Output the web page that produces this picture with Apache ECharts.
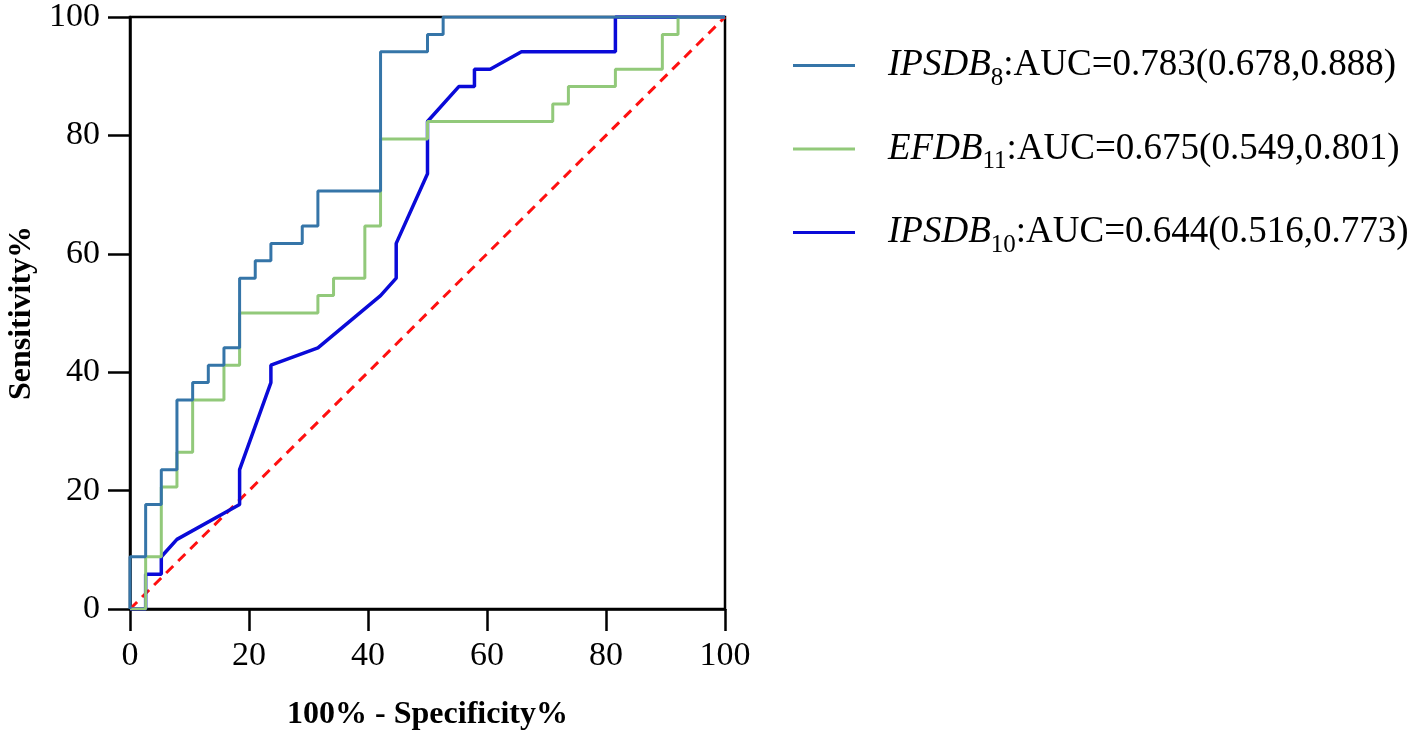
<!DOCTYPE html>
<html>
<head>
<meta charset="utf-8">
<script src="https://cdn.jsdelivr.net/npm/echarts@6/dist/echarts.min.js"></script>
<style>
  html, body { margin: 0; padding: 0; background: #fff; }
  #chart { width: 1417px; height: 736px; }
</style>
</head>
<body>
<div id="chart"></div>
<script>
// ROC 曲线数据 (100% - Specificity%, Sensitivity%)
var ipsdb8X = [0, 0, 2.63, 2.63, 5.26, 5.26, 7.89, 7.89, 10.53, 10.53, 13.16, 13.16, 15.79, 15.79, 18.42, 18.42,
    21.05, 21.05, 23.68, 23.68, 28.95, 28.95, 31.58, 31.58, 42.11, 42.11, 50, 50, 52.63, 52.63, 100];
var ipsdb8Y = [0, 8.82, 8.82, 17.65, 17.65, 23.53, 23.53, 35.29, 35.29, 38.24, 38.24, 41.18, 41.18, 44.12, 44.12, 55.88,
    55.88, 58.82, 58.82, 61.76, 61.76, 64.71, 64.71, 70.59, 70.59, 94.12, 94.12, 97.06, 97.06, 100, 100];

var efdb11X = [0, 2.63, 2.63, 5.26, 5.26, 7.89, 7.89, 10.53, 10.53, 15.79, 15.79, 18.42, 18.42, 31.58, 31.58, 34.21,
    34.21, 39.47, 39.47, 42.11, 42.11, 50, 50, 71.05, 71.05, 73.68, 73.68, 81.58, 81.58, 89.47, 89.47, 92.11, 92.11, 100];
var efdb11Y = [0, 0, 8.82, 8.82, 20.59, 20.59, 26.47, 26.47, 35.29, 35.29, 41.18, 41.18, 50, 50, 52.94, 52.94,
    55.88, 55.88, 64.71, 64.71, 79.41, 79.41, 82.35, 82.35, 85.29, 85.29, 88.24, 88.24, 91.18, 91.18, 97.06, 97.06, 100, 100];

var ipsdb10X = [0, 2.63, 2.63, 5.26, 5.26, 7.89, 18.42, 18.42, 23.68, 23.68, 31.58, 42.11, 44.74, 44.74, 50, 50,
    55.26, 57.89, 57.89, 60.53, 65.79, 81.58, 81.58, 100];
var ipsdb10Y = [0, 0, 5.88, 5.88, 8.82, 11.76, 17.65, 23.53, 38.24, 41.18, 44.12, 52.94, 55.88, 61.76, 73.53, 82.35,
    88.24, 88.24, 91.18, 91.18, 94.12, 94.12, 100, 100];

// 参考线
var refX = [0, 100];
var refY = [0, 100];

// 图例文字
var names = ['IPSDB8', 'EFDB11', 'IPSDB10'];
var nameMain = ['IPSDB', 'EFDB', 'IPSDB'];
var nameSub = ['8', '11', '10'];
var aucText = [':AUC=0.783(0.678,0.888)', ':AUC=0.675(0.549,0.801)', ':AUC=0.644(0.516,0.773)'];

function pairs(xs, ys) {
    return xs.map(function (x, i) { return [x, ys[i]]; });
}

var font = '"Liberation Serif", "Times New Roman", serif';

var chart = echarts.init(document.getElementById('chart'));

var option = {
    animation: false,
    backgroundColor: '#fff',
    grid: {
        left: 130,
        right: 692,
        top: 14,
        bottom: 127,
        show: true,
        borderColor: '#000',
        borderWidth: 2.5
    },
    legend: {
        orient: 'vertical',
        left: 793,
        top: 47,
        padding: 0,
        itemWidth: 62,
        itemHeight: 3,
        itemGap: 40,
        icon: 'rect',
        data: names,
        formatter: function (name) {
            var i = names.indexOf(name);
            return '{sp|}{a|' + nameMain[i] + '}{b|' + nameSub[i] + '}{c|' + aucText[i] + '}';
        },
        textStyle: {
            fontFamily: font,
            color: '#000',
            rich: {
                sp: { width: 28, lineHeight: 50 },
                a: { fontFamily: font, fontSize: 37, fontStyle: 'italic', color: '#000', lineHeight: 50 },
                b: { fontFamily: font, fontSize: 25, color: '#000', lineHeight: 26, verticalAlign: 'bottom' },
                c: { fontFamily: font, fontSize: 37, color: '#000', lineHeight: 50 }
            }
        }
    },
    xAxis: {
        type: 'value',
        min: 0,
        max: 100,
        interval: 20,
        name: '100% - Specificity%',
        nameLocation: 'middle',
        nameGap: 90,
        nameTextStyle: { fontFamily: font, fontSize: 32, fontWeight: 'bold', color: '#000' },
        axisLine: { lineStyle: { color: '#000', width: 2.5 } },
        axisTick: { show: true, length: 22, lineStyle: { color: '#000', width: 2.5 } },
        axisLabel: { fontFamily: font, fontSize: 34, color: '#000', margin: 30 },
        splitLine: { show: false }
    },
    yAxis: {
        type: 'value',
        min: 0,
        max: 100,
        interval: 20,
        name: 'Sensitivity%',
        nameLocation: 'middle',
        nameGap: 92,
        nameTextStyle: { fontFamily: font, fontSize: 32, fontWeight: 'bold', color: '#000' },
        axisLine: { show: true, lineStyle: { color: '#000', width: 2.5 } },
        axisTick: { show: true, length: 22, lineStyle: { color: '#000', width: 2.5 } },
        axisLabel: { fontFamily: font, fontSize: 34, color: '#000', margin: 30 },
        splitLine: { show: false }
    },
    series: [
        {
            name: 'ref',
            type: 'line',
            data: pairs(refX, refY),
            symbol: 'none',
            silent: true,
            z: 1,
            lineStyle: { color: '#ff1010', width: 3, type: [10, 7] }
        },
        {
            name: names[2],
            type: 'line',
            data: pairs(ipsdb10X, ipsdb10Y),
            symbol: 'none',
            z: 2,
            itemStyle: { color: '#0a0ad8' },
            lineStyle: { color: '#0a0ad8', width: 3.5 }
        },
        {
            name: names[1],
            type: 'line',
            data: pairs(efdb11X, efdb11Y),
            symbol: 'none',
            z: 3,
            itemStyle: { color: '#92c97a' },
            lineStyle: { color: '#92c97a', width: 3 }
        },
        {
            name: names[0],
            type: 'line',
            data: pairs(ipsdb8X, ipsdb8Y),
            symbol: 'none',
            z: 4,
            itemStyle: { color: '#3575a8' },
            lineStyle: { color: '#3575a8', width: 3 }
        }
    ]
};

chart.setOption(option);
</script>
</body>
</html>
